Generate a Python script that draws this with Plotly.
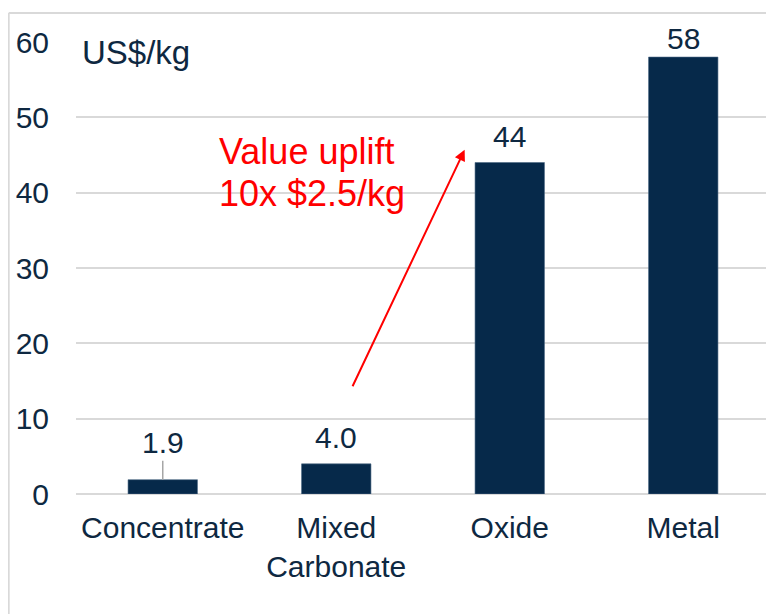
import plotly.graph_objects as go

# data
categories = ["Concentrate", "Mixed<br>Carbonate", "Oxide", "Metal"]
prices = [1.9, 4.0, 44, 58]
price_labels = ["1.9", "4.0", "44", "58"]
y_ticks = [0, 10, 20, 30, 40, 50, 60]

NAVY = "#06294A"
TEXT = "#0E2841"
GRID = "#D9D9D9"
FONT = "Liberation Sans, Arial, sans-serif"

fig = go.Figure()
fig.add_trace(
    go.Bar(
        x=categories,
        y=prices,
        width=0.4,
        marker=dict(color=NAVY, line=dict(color="#4A6783", width=0.6)),
        hoverinfo="skip",
        showlegend=False,
    )
)

# value labels
for i, (cat, val, lab) in enumerate(zip(categories, prices, price_labels)):
    if i == 0:
        fig.add_annotation(
            x=cat, y=val, text=lab, showarrow=True, arrowhead=0,
            arrowcolor="#A6A6A6", arrowwidth=1.5, ax=0, ay=-37, standoff=0,
            font=dict(size=30, color=TEXT, family=FONT),
        )
    else:
        # labels near the top of the plot get squeezed down, like in Excel
        shift = 8 if val < 55 else 0
        fig.add_annotation(
            x=cat, y=val, text=lab, showarrow=False, yanchor="bottom", yshift=shift,
            font=dict(size=30, color=TEXT, family=FONT),
        )

# red uplift arrow + note
fig.add_annotation(
    x=1.74, y=45.7, ax=1.09, ay=14.1, xref="x", yref="y", axref="x", ayref="y",
    text="", showarrow=True, arrowhead=2, arrowsize=1.1, arrowwidth=2,
    arrowcolor="#FF0000",
)
fig.add_annotation(
    x=0.31, y=45.4, xref="x", yref="y", text="Value uplift", showarrow=False,
    xanchor="left", yanchor="middle", font=dict(size=36, color="#FF0000", family=FONT),
)
fig.add_annotation(
    x=0.31, y=39.9, xref="x", yref="y", text="10x $2.5/kg", showarrow=False,
    xanchor="left", yanchor="middle", font=dict(size=36, color="#FF0000", family=FONT),
)

# unit label
fig.add_annotation(
    x=0.006, y=0.977, xref="paper", yref="paper", text="US$/kg", showarrow=False,
    xanchor="left", yanchor="middle", font=dict(size=33, color=TEXT, family=FONT),
)

# outer frame
fig.add_shape(type="line", xref="paper", yref="paper", x0=-0.097, x1=1.2, y0=1.064, y1=1.064,
              line=dict(color=GRID, width=2))
fig.add_shape(type="line", xref="paper", yref="paper", x0=-0.097, x1=-0.097, y0=1.064, y1=-0.4,
              line=dict(color=GRID, width=2))

fig.update_layout(
    width=766,
    height=606,
    margin=dict(l=68, r=4, t=34, b=120),
    plot_bgcolor="white",
    paper_bgcolor="white",
    font=dict(family=FONT, color=TEXT, size=30),
    xaxis=dict(
        showgrid=False, showline=False, ticks="", tickfont=dict(size=30, color=TEXT),
        range=[-0.5, 3.5], automargin=False, ticklabelstandoff=13,
    ),
    yaxis=dict(
        range=[0, 60], tickvals=y_ticks, showgrid=True, gridcolor=GRID, gridwidth=2,
        zeroline=True, zerolinecolor=GRID, zerolinewidth=2, showline=False,
        tickfont=dict(size=30, color=TEXT), ticklabelstandoff=26, automargin=False,
    ),
)

fig.write_html("out.html")
